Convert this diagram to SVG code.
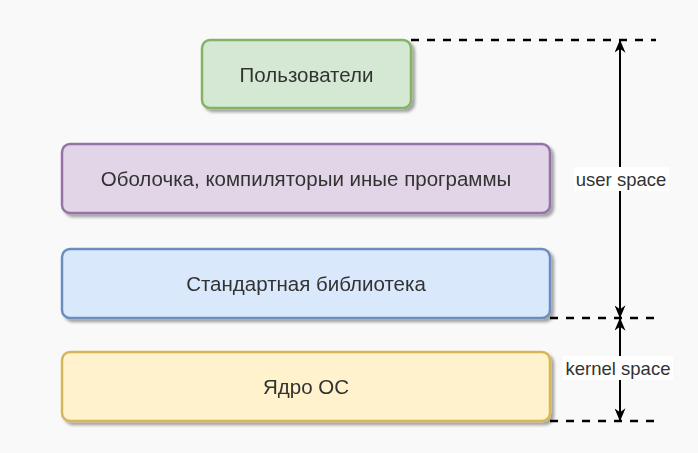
<svg xmlns="http://www.w3.org/2000/svg" width="698" height="453" viewBox="0 0 698 453">
<defs>
<filter id="sh" x="-10%" y="-20%" width="130%" height="160%">
<feGaussianBlur in="SourceAlpha" stdDeviation="1.5"/>
<feOffset dx="3" dy="3" result="b"/>
<feComponentTransfer><feFuncA type="linear" slope="0.35"/></feComponentTransfer>
<feMerge><feMergeNode/><feMergeNode in="SourceGraphic"/></feMerge>
</filter>
<marker id="ah" viewBox="0 0 10 10" refX="9" refY="5" markerWidth="13" markerHeight="11" orient="auto-start-reverse" markerUnits="userSpaceOnUse" preserveAspectRatio="none">
<path d="M0,0 L10,5 L0,10 L3,5 Z" fill="#000"/>
</marker>
</defs>
<style>
.box{stroke-width:2.5}
.lbl{font-family:"Liberation Sans",Arial,sans-serif;font-size:20.5px;fill:#333;text-anchor:middle;dominant-baseline:central}
.dash{stroke:#000;stroke-width:2.5;stroke-dasharray:8 8;fill:none}
.arr{stroke:#000;stroke-width:2;fill:none}
.side{font-family:"Liberation Sans",Arial,sans-serif;font-size:18.5px;fill:#333;text-anchor:middle;dominant-baseline:central}
</style>
<rect width="698" height="453" fill="#f9f9f9"/>
<g id="users" filter="url(#sh)">
<rect class="box" x="202" y="40" width="209" height="68" rx="8" fill="#d5e8d4" stroke="#82b366"/>
<text class="lbl" x="306.5" y="74">Пользователи</text>
</g>
<g id="shell" filter="url(#sh)">
<rect class="box" x="62" y="144" width="488" height="69" rx="8" fill="#e1d5e7" stroke="#9673a6"/>
<text class="lbl" x="306" y="178.5">Оболочка, компиляторыи иные программы</text>
</g>
<g id="stdlib" filter="url(#sh)">
<rect class="box" x="62" y="249" width="488" height="69" rx="8" fill="#dae8fc" stroke="#6c8ebf"/>
<text class="lbl" x="306" y="283.5">Стандартная библиотека</text>
</g>
<g id="kernel" filter="url(#sh)">
<rect class="box" x="62" y="352" width="488" height="69" rx="8" fill="#fff2cc" stroke="#d6b656"/>
<text class="lbl" x="306" y="386.5">Ядро ОС</text>
</g>
<g id="connectors">
<line class="dash" x1="411" y1="40" x2="656" y2="40"/>
<line class="dash" x1="550" y1="318" x2="656" y2="318"/>
<line class="dash" x1="550" y1="421" x2="656" y2="421"/>
<line class="arr" x1="620" y1="317" x2="620" y2="41" marker-start="url(#ah)" marker-end="url(#ah)"/>
<line class="arr" x1="620" y1="319" x2="620" y2="420" marker-start="url(#ah)" marker-end="url(#ah)"/>
<rect x="574" y="167" width="95" height="24" fill="#fff"/>
<text class="side" x="621" y="179">user space</text>
<rect x="563" y="356" width="110" height="24" fill="#fff"/>
<text class="side" x="618" y="368">kernel space</text>
</g>
</svg>
